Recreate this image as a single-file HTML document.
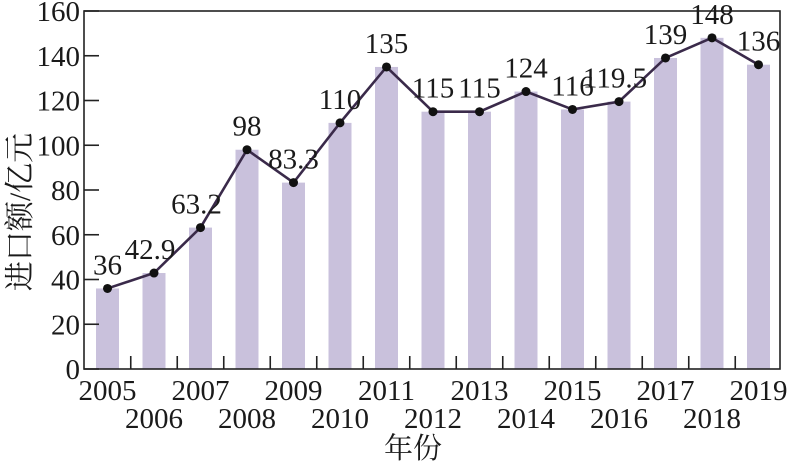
<!DOCTYPE html>
<html><head><meta charset="utf-8"><style>
body{margin:0;background:#fff}
svg text{font-family:"Liberation Serif","Noto Serif CJK SC",serif;fill:#1a1a1a}
</style></head><body>
<svg width="790" height="466" viewBox="0 0 790 466" xmlns="http://www.w3.org/2000/svg">
<g id="bars" fill="#c9c1dc"></g>
<rect x="84" y="11" width="696" height="358" fill="none" stroke="#222" stroke-width="1.6"/>
<g id="ticks" stroke="#222" stroke-width="1.6"></g>
<g id="ylab" font-size="29" text-anchor="end"></g>
<g id="xlab" font-size="29" text-anchor="middle"></g>
<polyline id="line" fill="none" stroke="#3a2a4a" stroke-width="2.6"/>
<g id="dots" fill="#111"></g>
<g id="vlab" font-size="29" text-anchor="middle"></g>
<text x="413" y="458" font-size="29" text-anchor="middle">年份</text>
<text transform="translate(30,212) rotate(-90)" font-size="30" text-anchor="middle">进口额/亿元</text>
</svg>
<script>
const ns="http://www.w3.org/2000/svg";
const v=[36,42.9,63.2,98,83.3,110,135,115,115,124,116,119.5,139,148,136];
const lab=["36","42.9","63.2","98","83.3","110","135","115","115","124","116","119.5","139","148","136"];
const Y=d=>369-d*2.2375, X=i=>107.5+i*46.5;
function el(p,t,a,txt){const e=document.createElementNS(ns,t);for(const k in a)e.setAttribute(k,a[k]);if(txt!=null)e.textContent=txt;document.getElementById(p).appendChild(e);return e;}
let pts=[];
v.forEach((d,i)=>{
 const x=X(i),y=Y(d);
 el("bars","rect",{x:x-11.5,y:y,width:23,height:369-y});
 pts.push(x+","+y);
 el("dots","circle",{cx:x,cy:y,r:4.5});
 el("vlab","text",{x:x-(i==11?4:(i==1||i==2?4:0)),y:y-14},lab[i]);
 el("xlab","text",{x:x,y:i%2==0?400:428},2005+i);
 if(i<14) el("ticks","line",{x1:x+23.25,x2:x+23.25,y1:369,y2:356});
});
document.getElementById("line").setAttribute("points",pts.join(" "));
for(let k=0;k<=8;k++){const y=Y(k*20);
 el("ticks","line",{x1:84,x2:99,y1:y,y2:y});
 el("ylab","text",{x:80,y:y+10},k*20);}
</script>
</body></html>
